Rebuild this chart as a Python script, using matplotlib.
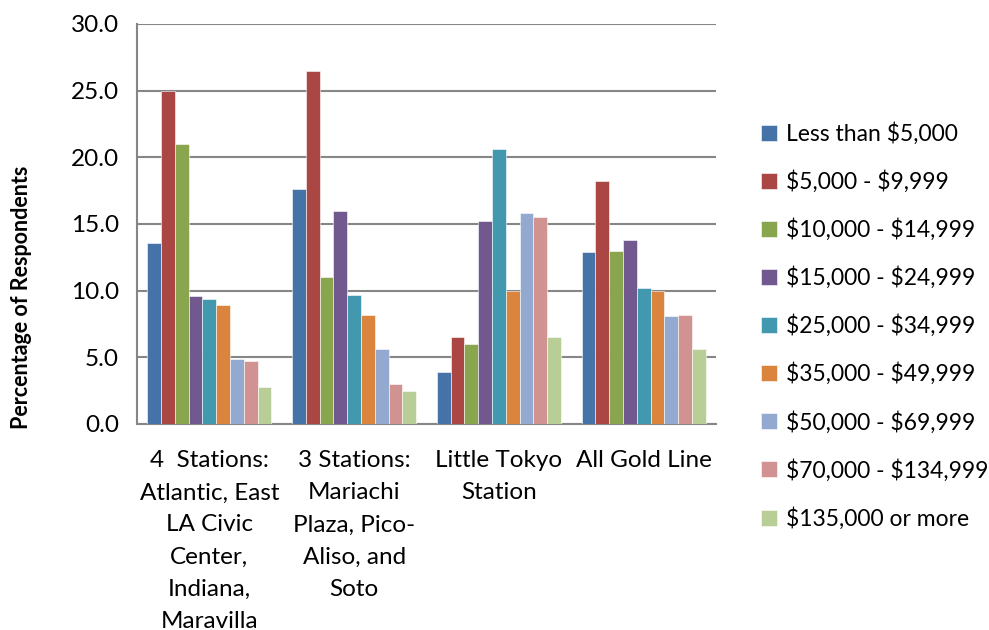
import numpy as np
import matplotlib
matplotlib.use("Agg")
import matplotlib.pyplot as plt

plt.rcParams['font.family'] = ['Lato', 'DejaVu Sans']
plt.rcParams['text.parse_math'] = False

groups = [
    "4  Stations:\nAtlantic, East\nLA Civic\nCenter,\nIndiana,\nMaravilla",
    "3 Stations:\nMariachi\nPlaza, Pico-\nAliso, and\nSoto",
    "Little Tokyo\nStation",
    "All Gold Line",
]

income_brackets = [
    "Less than $5,000",
    "$5,000 - $9,999",
    "$10,000 - $14,999",
    "$15,000 - $24,999",
    "$25,000 - $34,999",
    "$35,000 - $49,999",
    "$50,000 - $69,999",
    "$70,000 - $134,999",
    "$135,000 or more",
]

# percentage of respondents per bracket, one list per station group
four_stations = [13.6, 25.0, 21.0, 9.6, 9.4, 8.9, 4.9, 4.7, 2.8]
three_stations = [17.6, 26.5, 11.0, 16.0, 9.7, 8.2, 5.6, 3.0, 2.5]
little_tokyo = [3.9, 6.5, 6.0, 15.2, 20.6, 10.0, 15.8, 15.5, 6.5]
all_gold_line = [12.9, 18.2, 13.0, 13.8, 10.2, 10.0, 8.1, 8.2, 5.6]

colors = ["#4572A7", "#AA4643", "#89A54E", "#71588F", "#4198AF",
          "#DB843D", "#93A9CF", "#D19392", "#B9CD96"]

data = np.array([four_stations, three_stations, little_tokyo, all_gold_line])

fig = plt.figure(figsize=(9.89, 6.3), dpi=100)
ax = fig.add_axes([137 / 989, 1 - 424 / 630, 579 / 989, 400 / 630])

n_series = len(income_brackets)
group_frac = 0.857
bar_w = group_frac / n_series
x = np.arange(len(groups))

for i, (label, col) in enumerate(zip(income_brackets, colors)):
    offs = (i - (n_series - 1) / 2) * bar_w
    ax.bar(x + offs, data[:, i], width=bar_w, color=col, label=label,
           edgecolor="#FFFFFF", linewidth=0.4, zorder=3)

ax.set_xlim(-0.5, len(groups) - 0.5)
ax.set_ylim(0, 30)
yt = np.arange(0, 30.1, 5)
ax.set_yticks(yt)
ax.set_yticklabels([f"{v:.1f}" for v in yt], fontsize=17.5)
ax.yaxis.grid(True, color="#868686", linewidth=1.5, zorder=0)
ax.set_axisbelow(True)

ax.set_xticks(x)
ax.set_xticklabels(groups, fontsize=17.5, linespacing=1.65, va="top")
ax.tick_params(axis="x", length=0, pad=19)
ax.tick_params(axis="y", length=0, pad=13)

for side in ["top", "right"]:
    ax.spines[side].set_visible(False)
for side in ["left", "bottom"]:
    ax.spines[side].set_color("#868686")
    ax.spines[side].set_linewidth(1.5)

fig.text(22 / 989, 1 - 297 / 630, "Percentage of Respondents",
         rotation=90, fontsize=15.5, fontweight="bold", ha="center", va="center")

leg = fig.legend(loc="upper left", bbox_to_anchor=(752 / 989, 1 - 113 / 630),
                 frameon=False, fontsize=16.5, handlelength=0.7, handleheight=0.7,
                 handletextpad=0.4, labelspacing=1.11, borderaxespad=0)

fig.savefig("out.png", dpi=100, facecolor="white")
